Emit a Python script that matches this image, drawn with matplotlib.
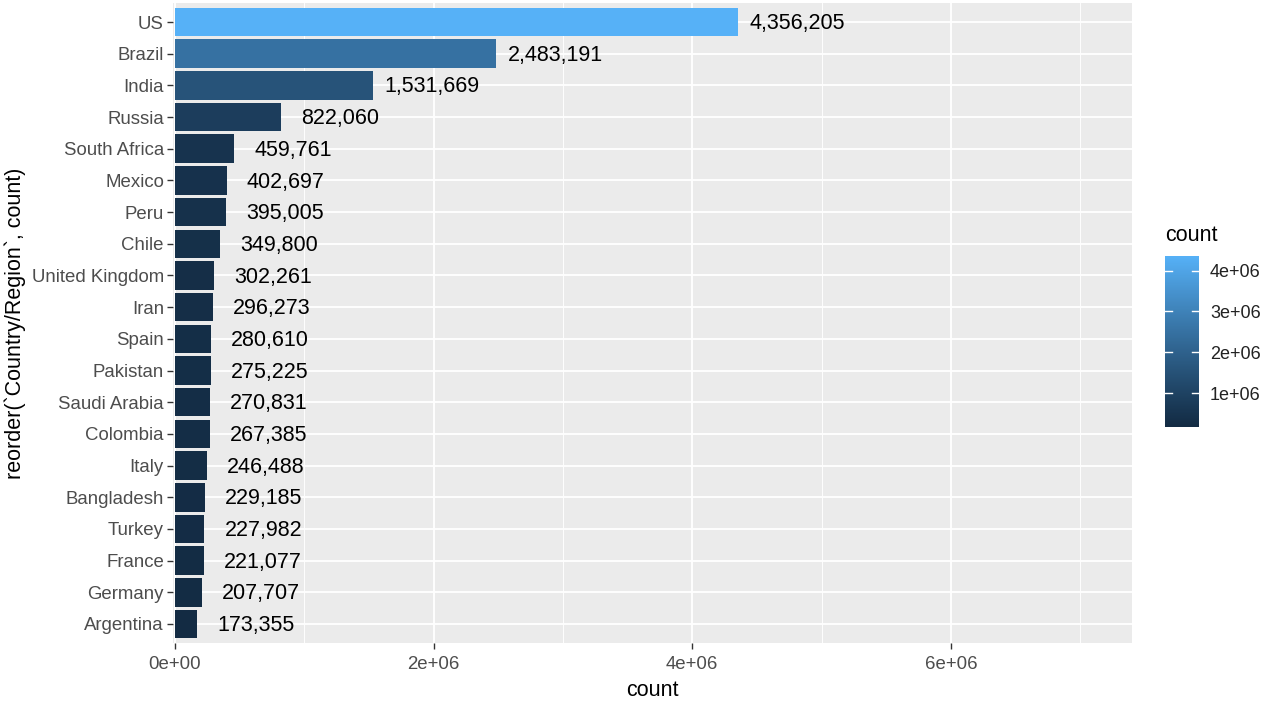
import numpy as np
import matplotlib
matplotlib.use("Agg")
import matplotlib.pyplot as plt
from matplotlib.colors import ListedColormap, Normalize

plt.rcParams['font.family'] = ['Liberation Sans', 'DejaVu Sans']

# ---------------- data (top to bottom) ----------------
countries = ["US", "Brazil", "India", "Russia", "South Africa", "Mexico", "Peru",
             "Chile", "United Kingdom", "Iran", "Spain", "Pakistan", "Saudi Arabia",
             "Colombia", "Italy", "Bangladesh", "Turkey", "France", "Germany", "Argentina"]
counts = [4356205, 2483191, 1531669, 822060, 459761, 402697, 395005,
          349800, 302261, 296273, 280610, 275225, 270831,
          267385, 246488, 229185, 227982, 221077, 207707, 173355]
x_ticks = [0, 2e6, 4e6, 6e6]
x_ticklabels = ["0e+00", "2e+06", "4e+06", "6e+06"]
cb_ticks = [1e6, 2e6, 3e6, 4e6]
cb_ticklabels = ["1e+06", "2e+06", "3e+06", "4e+06"]


# ---------------- ggplot-like gradient (Lab interpolation) ----------------
def hex2rgb(h):
    h = h.lstrip('#')
    return np.array([int(h[i:i + 2], 16) / 255 for i in (0, 2, 4)])

M = np.array([[0.4124, 0.3576, 0.1805],
              [0.2126, 0.7152, 0.0722],
              [0.0193, 0.1192, 0.9505]])
WHITE = np.array([0.95047, 1.0, 1.08883])

def rgb2lab(c):
    lin = np.where(c <= 0.04045, c / 12.92, ((c + 0.055) / 1.055) ** 2.4)
    xyz = M @ lin / WHITE
    f = np.where(xyz > 0.008856, np.cbrt(xyz), 7.787 * xyz + 16 / 116)
    return np.array([116 * f[1] - 16, 500 * (f[0] - f[1]), 200 * (f[1] - f[2])])

def lab2rgb(lab):
    fy = (lab[0] + 16) / 116
    fx = fy + lab[1] / 500
    fz = fy - lab[2] / 200
    f = np.array([fx, fy, fz])
    xyz = np.where(f ** 3 > 0.008856, f ** 3, (f - 16 / 116) / 7.787) * WHITE
    lin = np.linalg.solve(M, xyz)
    c = np.where(lin <= 0.0031308, 12.92 * lin, 1.055 * np.clip(lin, 0, None) ** (1 / 2.4) - 0.055)
    return np.clip(c, 0, 1)

low, high = rgb2lab(hex2rgb("#132B43")), rgb2lab(hex2rgb("#56B1F7"))
cmap = ListedColormap([lab2rgb(low + t * (high - low)) for t in np.linspace(0, 1, 256)])
norm = Normalize(min(counts), max(counts))

# ---------------- figure ----------------
fig = plt.figure(figsize=(12.73, 7.06), dpi=100)
ax = fig.add_axes([173 / 1273, 63 / 706, 959 / 1273, 640 / 706])
ax.set_facecolor("#EBEBEB")

ypos = np.arange(len(countries))
ax.barh(ypos, counts, height=0.9, color=cmap(norm(np.array(counts))), zorder=3)
for y, c in zip(ypos, counts):
    ax.text(c + 4.55e5, y + 0.05, f"{c:,}", ha="center", va="center", fontsize=15.5,
            color="black", zorder=4)

ax.set_xlim(-0.015e6, 7.40e6)
ax.set_ylim(len(countries) - 0.4, -0.6)
ax.set_xticks(x_ticks)
ax.set_xticklabels(x_ticklabels)
ax.set_xticks([1e6, 3e6, 5e6, 7e6], minor=True)
ax.set_yticks(ypos)
ax.set_yticklabels(countries)
ax.grid(which="major", color="white", linewidth=1.3, zorder=1)
ax.grid(which="minor", axis="x", color="white", linewidth=0.65, zorder=1)
ax.set_axisbelow(True)
for s in ax.spines.values():
    s.set_visible(False)
ax.tick_params(which="major", length=4.5, width=1, color="#333333",
               labelcolor="#4D4D4D", labelsize=13.4, pad=2)
ax.tick_params(axis="x", which="major", pad=5)
ax.tick_params(which="minor", length=0)
ax.set_xlabel("count", fontsize=15.5, labelpad=5)
ax.set_ylabel("reorder(`Country/Region`, count)", fontsize=15.5, labelpad=4)

# ---------------- colourbar legend ----------------
cax = fig.add_axes([1165 / 1273, 279 / 706, 34 / 1273, 171 / 706])
grad = np.linspace(min(counts), max(counts), 300).reshape(-1, 1)
cax.imshow(grad, cmap=cmap, norm=norm, aspect="auto", origin="lower",
           extent=[0, 1, min(counts), max(counts)])
cax.set_xlim(0, 1)
cax.set_ylim(min(counts), max(counts))
for t in cb_ticks:
    cax.plot([0, 0.2], [t, t], color="white", lw=1)
    cax.plot([0.8, 1], [t, t], color="white", lw=1)
cax.set_xticks([])
cax.yaxis.tick_right()
cax.set_yticks(cb_ticks)
cax.set_yticklabels(cb_ticklabels)
cax.tick_params(length=0, labelsize=13, labelcolor="#222222", pad=8)
for s in cax.spines.values():
    s.set_visible(False)
fig.text(1165 / 1273, 1 - 235 / 706, "count", fontsize=15.5, ha="left", va="center")

fig.savefig("out.png", dpi=100)
